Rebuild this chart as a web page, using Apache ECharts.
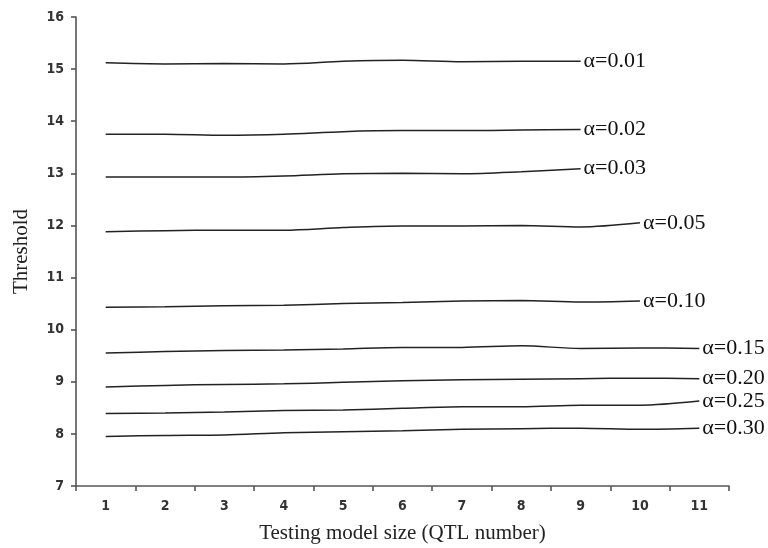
<!DOCTYPE html>
<html><head><meta charset="utf-8">
<script src="https://cdn.jsdelivr.net/npm/echarts@6/dist/echarts.min.js"></script>
<style>html,body{margin:0;padding:0;background:#fff}#c{width:768px;height:548px}</style>
</head><body><div id="c"></div>
<script>
const categories = ['1','2','3','4','5','6','7','8','9','10','11'];
const a001 = [15.12,15.10,15.11,15.10,15.15,15.17,15.14,15.15,15.15];
const a002 = [13.75,13.75,13.73,13.75,13.80,13.82,13.82,13.83,13.84];
const a003 = [12.93,12.93,12.93,12.95,12.99,13.00,12.99,13.03,13.09];
const a005 = [11.88,11.90,11.91,11.91,11.96,11.99,11.99,12.00,11.97,12.05];
const a010 = [10.43,10.44,10.46,10.47,10.50,10.52,10.55,10.56,10.53,10.55];
const a015 = [9.55,9.58,9.60,9.61,9.63,9.66,9.66,9.69,9.64,9.65,9.64];
const a020 = [8.90,8.93,8.95,8.96,8.99,9.02,9.04,9.05,9.06,9.07,9.06];
const a025 = [8.39,8.40,8.42,8.45,8.46,8.49,8.52,8.52,8.55,8.55,8.63];
const a030 = [7.95,7.97,7.98,8.02,8.04,8.06,8.09,8.10,8.11,8.09,8.11];
const seriesNames = ['α=0.01','α=0.02','α=0.03','α=0.05','α=0.10','α=0.15','α=0.20','α=0.25','α=0.30'];
const seriesData = [a001,a002,a003,a005,a010,a015,a020,a025,a030];
const yTicks = {min:7,max:16,interval:1};

const chart = echarts.init(document.getElementById('c'));
const serif = 'Liberation Serif';
const tickFont = '"Liberation Sans Narrow","DejaVu Sans Condensed","Liberation Sans"';
chart.setOption({
  animation:false,
  backgroundColor:'#fff',
  grid:{left:76,right:39,top:17,bottom:62,containLabel:false,outerBoundsMode:'none'},
  xAxis:{
    type:'category',data:categories,boundaryGap:true,
    name:'Testing model size (QTL number)',nameLocation:'middle',nameGap:37,
    nameTextStyle:{fontFamily:serif,fontSize:21,color:'#222'},
    axisLine:{lineStyle:{color:'#555',width:1.6}},
    axisTick:{show:true,alignWithLabel:false,length:5,lineStyle:{color:'#555',width:1.6}},
    axisLabel:{fontFamily:tickFont,fontWeight:'bold',fontSize:14,color:'#333',margin:13}
  },
  yAxis:{
    type:'value',min:yTicks.min,max:yTicks.max,interval:yTicks.interval,
    name:'Threshold',nameLocation:'middle',nameGap:44,
    nameTextStyle:{fontFamily:serif,fontSize:21,color:'#222'},
    splitLine:{show:false},
    axisLine:{show:true,lineStyle:{color:'#555',width:1.6}},
    axisTick:{show:true,length:5,lineStyle:{color:'#555',width:1.6}},
    axisLabel:{fontFamily:tickFont,fontWeight:'bold',fontSize:14,color:'#333',margin:12}
  },
  series: seriesNames.map((n,i)=>({
    name:n,type:'line',data:seriesData[i],smooth:0.3,showSymbol:false,symbol:'none',
    lineStyle:{color:'#222',width:1.5},
    endLabel:{show:true,formatter:n,fontFamily:serif,fontSize:22,color:'#111',distance:3}
  }))
});
</script></body></html>
